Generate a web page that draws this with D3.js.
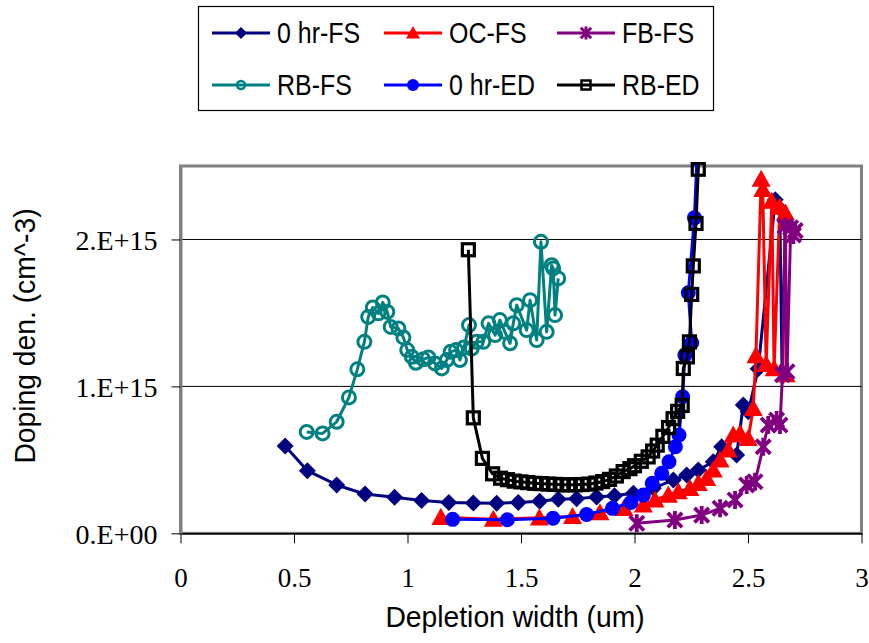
<!DOCTYPE html>
<html><head><meta charset="utf-8">
<script src="https://cdn.jsdelivr.net/npm/d3@7"></script>
<style>body{margin:0;background:#fff}svg{display:block}</style>
</head><body>
<svg id="c" width="869" height="643"></svg>
<script>
// ---- data (x: depletion width um, y: doping density cm^-3) ----
const seriesNames = ["0 hr-FS","OC-FS","FB-FS","RB-FS","0 hr-ED","RB-ED"];
const xTicks = [0,0.5,1,1.5,2,2.5,3];
const xTickLabels = ["0","0.5","1","1.5","2","2.5","3"];
const yTicks = [0,1e15,2e15];
const yTickLabels = ["0.E+00","1.E+15","2.E+15"];

const hr0FS = [[0.461,0.594e15],[0.559,0.426e15],[0.688,0.329e15],[0.813,0.267e15],[0.943,0.245e15],[1.062,0.224e15],[1.182,0.21e15],[1.290,0.206e15],[1.393,0.205e15],[1.488,0.21e15],[1.582,0.218e15],[1.664,0.232e15],[1.745,0.236e15],[1.833,0.247e15],[1.912,0.256e15],[1.995,0.272e15],[2.083,0.306e15],[2.171,0.363e15],[2.230,0.397e15],[2.281,0.431e15],[2.347,0.487e15],[2.384,0.589e15],[2.450,0.533e15],[2.479,0.873e15],[2.501,0.827e15],[2.545,1.12e15],[2.620,2.27e15],[2.640,2.21e15],[2.650,1.10e15],[2.665,2.12e15]];
const ocFS = [[1.147,0.109e15],[1.378,0.096e15],[1.581,0.105e15],[1.727,0.115e15],[1.848,0.14e15],[1.954,0.17e15],[2.039,0.193e15],[2.090,0.227e15],[2.149,0.26e15],[2.193,0.283e15],[2.244,0.306e15],[2.281,0.34e15],[2.318,0.374e15],[2.347,0.431e15],[2.377,0.499e15],[2.413,0.567e15],[2.435,0.669e15],[2.465,0.680e15],[2.501,0.646e15],[2.523,0.850e15],[2.535,1.21e15],[2.558,2.41e15],[2.565,2.34e15],[2.580,1.15e15],[2.605,2.26e15],[2.615,1.12e15],[2.640,2.22e15],[2.665,2.18e15],[2.668,1.08e15]];
const fbFS = [[2.010,0.068e15],[2.178,0.09e15],[2.296,0.124e15],[2.377,0.170e15],[2.443,0.227e15],[2.494,0.329e15],[2.531,0.351e15],[2.567,0.589e15],[2.589,0.737e15],[2.626,0.771e15],[2.641,0.737e15],[2.652,1.08e15],[2.663,2.09e15],[2.672,1.10e15],[2.688,2.08e15],[2.700,2.03e15],[2.708,2.06e15]];
const rbFS = [[0.556,0.69e15],[0.626,0.68e15],[0.688,0.759e15],[0.742,0.925e15],[0.779,1.116e15],[0.810,1.303e15],[0.827,1.473e15],[0.847,1.537e15],[0.872,1.497e15],[0.891,1.571e15],[0.911,1.507e15],[0.926,1.405e15],[0.960,1.394e15],[0.982,1.333e15],[0.999,1.247e15],[1.019,1.201e15],[1.037,1.161e15],[1.070,1.184e15],[1.092,1.197e15],[1.121,1.156e15],[1.151,1.122e15],[1.173,1.179e15],[1.190,1.235e15],[1.214,1.247e15],[1.231,1.179e15],[1.249,1.265e15],[1.271,1.417e15],[1.283,1.258e15],[1.305,1.303e15],[1.334,1.303e15],[1.357,1.429e15],[1.386,1.349e15],[1.407,1.451e15],[1.429,1.371e15],[1.452,1.293e15],[1.466,1.429e15],[1.481,1.553e15],[1.525,1.383e15],[1.540,1.587e15],[1.569,1.315e15],[1.588,1.984e15],[1.613,1.371e15],[1.635,1.825e15],[1.642,1.803e15],[1.650,1.485e15],[1.664,1.735e15]];
const hr0ED = [[1.199,0.095e15],[1.440,0.092e15],[1.641,0.102e15],[1.789,0.128e15],[1.903,0.17e15],[1.984,0.21e15],[2.039,0.26e15],[2.078,0.34e15],[2.120,0.408e15],[2.152,0.487e15],[2.180,0.589e15],[2.196,0.669e15],[2.212,0.929e15],[2.222,1.213e15],[2.252,1.297e15],[2.237,1.637e15],[2.264,2.147e15],[2.275,2.55e15],[2.285,3.0e15]];
const rbED = [[1.268,1.93e15],[1.290,0.786e15],[1.330,0.510e15],[1.375,0.405e15],[1.410,0.375e15],[1.440,0.365e15],[1.470,0.355e15],[1.500,0.350e15],[1.530,0.345e15],[1.560,0.340e15],[1.590,0.338e15],[1.620,0.335e15],[1.650,0.333e15],[1.680,0.330e15],[1.710,0.330e15],[1.740,0.330e15],[1.770,0.332e15],[1.800,0.335e15],[1.830,0.342e15],[1.860,0.352e15],[1.890,0.367e15],[1.920,0.390e15],[1.950,0.420e15],[1.980,0.440e15],[2.000,0.460e15],[2.030,0.490e15],[2.060,0.520e15],[2.080,0.560e15],[2.100,0.600e15],[2.125,0.660e15],[2.150,0.720e15],[2.170,0.780e15],[2.190,0.830e15],[2.210,0.870e15],[2.215,1.122e15],[2.233,1.201e15],[2.242,1.303e15],[2.252,1.626e15],[2.259,1.820e15],[2.271,2.109e15],[2.281,2.478e15],[2.290,3.0e15]];

const allData = [hr0FS, ocFS, fbFS, rbFS, hr0ED, rbED];
const colors = ["#000080","#FF0000","#800080","#008080","#0000FF","#000000"];
const markers = ["diamond","triangle","star","ocircle","circle","square"];

// ---- layout ----
const svg = d3.select("#c");
const L = 180.5, R = 861.5, T = 166, B = 533.3;
const x = d3.scaleLinear().domain([0,3]).range([L,R]);
const y = d3.scaleLinear().domain([0,2.5e15]).range([B,T]);

svg.append("defs").append("clipPath").attr("id","clip")
  .append("rect").attr("x",L).attr("y",T-4).attr("width",R-L).attr("height",B-T+4);

// plot frame
svg.append("rect").attr("x",L).attr("y",T).attr("width",R-L).attr("height",B-T)
  .attr("fill","none").attr("stroke","#808080").attr("stroke-width",3);

// gridlines
svg.append("g").selectAll("line").data(yTicks.filter(d=>d>0)).join("line")
  .attr("x1",L).attr("x2",R).attr("y1",d=>y(d)).attr("y2",d=>y(d))
  .attr("stroke","#000").attr("stroke-width",1);

// axes
const xAxis = svg.append("g").attr("transform",`translate(0,${B})`)
  .call(d3.axisBottom(x).tickValues(xTicks).tickFormat((d,i)=>xTickLabels[i]).tickSize(10).tickSizeOuter(0));
xAxis.select(".domain").attr("stroke","#000").attr("stroke-width",1.5);
xAxis.selectAll(".tick line").attr("stroke","#000").attr("stroke-width",1);
xAxis.selectAll(".tick text").attr("font-family","'Liberation Serif','Times New Roman',serif")
  .attr("font-size",27).attr("fill","#000").attr("dy",0).attr("y",54);

const yAxis = svg.append("g").attr("transform",`translate(${L},0)`)
  .call(d3.axisLeft(y).tickValues(yTicks).tickFormat((d,i)=>yTickLabels[i]).tickSize(9).tickSizeOuter(0));
yAxis.select(".domain").attr("stroke","#808080").attr("stroke-width",3);
yAxis.selectAll(".tick line").attr("stroke","#000").attr("stroke-width",1);
yAxis.selectAll(".tick text").attr("font-family","'Liberation Serif','Times New Roman',serif")
  .attr("font-size",28).attr("fill","#000").attr("x",-23).attr("dy","0.35em");

// axis titles
svg.append("text").attr("transform","translate(515,627) scale(0.975,1)")
  .attr("text-anchor","middle").attr("font-family","'Liberation Sans',Arial,sans-serif")
  .attr("font-size",29).attr("fill","#000").text("Depletion width (um)");
svg.append("text").attr("transform","translate(35,336) rotate(-90) scale(0.975,1)")
  .attr("text-anchor","middle").attr("font-family","'Liberation Sans',Arial,sans-serif")
  .attr("font-size",29).attr("fill","#000").text("Doping den. (cm^-3)");

// marker drawing
function drawMarker(g, type, color, s, sw) {
  if (type==="diamond") {
    g.append("path").attr("d",`M0,${-s}L${s},0L0,${s}L${-s},0Z`).attr("fill",color);
  } else if (type==="triangle") {
    g.append("path").attr("d",`M0,${-s}L${s},${s*0.8}L${-s},${s*0.8}Z`).attr("fill",color);
  } else if (type==="star") {
    const a=s*0.8;
    g.append("path").attr("d",`M${-a},${-a}L${a},${a}M${-a},${a}L${a},${-a}M0,${-s}L0,${s}`)
      .attr("stroke",color).attr("stroke-width",sw).attr("fill","none");
  } else if (type==="ocircle") {
    g.append("circle").attr("r",s).attr("fill","none").attr("stroke",color).attr("stroke-width",sw);
  } else if (type==="circle") {
    g.append("circle").attr("r",s).attr("fill",color);
  } else if (type==="square") {
    g.append("rect").attr("x",-s).attr("y",-s).attr("width",2*s).attr("height",2*s)
      .attr("fill","none").attr("stroke",color).attr("stroke-width",sw);
  }
}
const plotSizes = {diamond:8.5,triangle:9.5,star:9,ocircle:6.5,circle:7.5,square:6};
const plotStroke = {star:3.8,ocircle:3,square:3.2};
const legSizes = {diamond:6,triangle:7,star:6.5,ocircle:4,circle:6,square:4.5};
const legStroke = {star:3,ocircle:2.5,square:2.5};

const line = d3.line().x(d=>x(d[0])).y(d=>y(d[1]));
const plotG = svg.append("g").attr("clip-path","url(#clip)");
allData.forEach((data,i)=>{
  const g = plotG.append("g");
  g.append("path").datum(data).attr("d",line).attr("fill","none")
    .attr("stroke",colors[i]).attr("stroke-width",3).attr("stroke-linejoin","round");
  g.selectAll("g.m").data(data).join("g").attr("class","m")
    .attr("transform",d=>`translate(${x(d[0])},${y(d[1])})`)
    .each(function(){ drawMarker(d3.select(this), markers[i], colors[i], plotSizes[markers[i]], plotStroke[markers[i]]); });
});

// legend
const leg = svg.append("g");
leg.append("rect").attr("x",198.5).attr("y",6.5).attr("width",515).attr("height",104)
  .attr("fill","#fff").attr("stroke","#000").attr("stroke-width",1.2);
const colX = [212,384,557];
const rowY = [33,85];
seriesNames.forEach((name,i)=>{
  const cx = colX[i%3], cy = rowY[Math.floor(i/3)];
  leg.append("line").attr("x1",cx).attr("x2",cx+58).attr("y1",cy).attr("y2",cy)
    .attr("stroke",colors[i]).attr("stroke-width",3);
  const mg = leg.append("g").attr("transform",`translate(${cx+29},${cy})`);
  drawMarker(mg, markers[i], colors[i], legSizes[markers[i]], legStroke[markers[i]]);
  leg.append("text").attr("transform",`translate(${cx+65},${cy+10}) scale(0.86,1)`)
    .attr("font-family","'Liberation Sans',Arial,sans-serif").attr("font-size",29)
    .attr("fill","#000").text(name);
});
</script>
</body></html>
